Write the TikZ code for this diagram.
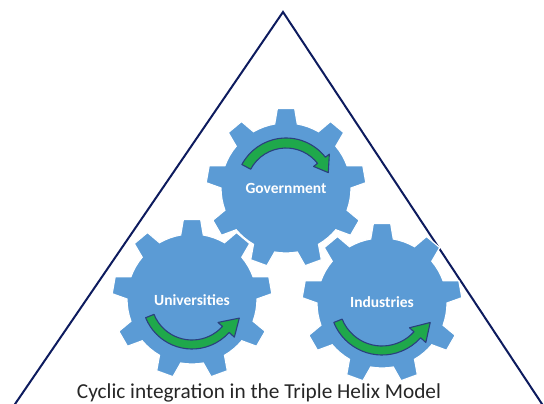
\documentclass[tikz,border=0pt]{standalone}
\usepackage{fontspec}
\setmainfont{Carlito}
\definecolor{gearblue}{HTML}{5B9BD5}
\definecolor{arrowgreen}{HTML}{1FA84B}
\definecolor{arrownavy}{HTML}{2B3F7E}
\definecolor{framenavy}{HTML}{0D1B5E}
\definecolor{captiongray}{HTML}{262626}
\newcommand{\drawgear}[2]{%
  \begin{scope}[shift={(#1,#2)}]
    \path[gearfill] (-100:65)
      \foreach \a in {-90,-50,...,230}{
        -- (\a-6.2:80) -- (\a+6.2:80) -- (\a+10:65)
        arc[start angle=\a+10, end angle=\a+30, radius=65]
      } -- cycle;
  \end{scope}}
\begin{document}
\begin{tikzpicture}[x=1pt,y=-1pt,
  gearfill/.style={fill=gearblue, draw=white, line width=1.2pt},
  helix/.style={fill=arrowgreen, draw=arrownavy, line width=1.1pt, line join=round},
  gearlabel/.style={text=white, font=\bfseries\fontsize{15.5}{18}\selectfont, inner sep=0pt},
  frameline/.style={draw=framenavy, line width=2pt, line join=miter}]
\useasboundingbox (0,0) rectangle (544,404);
% triangle frame
\coordinate (apex) at (283,12);
\coordinate (leftfoot) at (13,407);
\coordinate (rightfoot) at (544,407);
\draw[frameline] (leftfoot) -- (apex) -- (rightfoot);
% gears
\drawgear{192}{299}
\drawgear{382}{303}
\drawgear{286}{188}
% curved arrows
\begin{scope}[shift={(286,188)}]
  \path[helix] (208:40) arc[start angle=208, end angle=322, radius=40]
    -- (322:35) -- (340:45) -- (322:55) -- (322:50)
    arc[start angle=322, end angle=208, radius=50] -- cycle;
\end{scope}
\begin{scope}[shift={(192,299)}]
  \path[helix] (158:50) arc[start angle=158, end angle=42, radius=50]
    -- (42:57) -- (22:51) -- (42:35) -- (42:41)
    arc[start angle=42, end angle=158, radius=41] -- cycle;
\end{scope}
\begin{scope}[shift={(382,303)}]
  \path[helix] (158:52) arc[start angle=158, end angle=42, radius=52]
    -- (42:59) -- (22:52) -- (42:37) -- (42:43)
    arc[start angle=42, end angle=158, radius=43] -- cycle;
\end{scope}
% labels
\node[gearlabel] (gov) at (286,188) {Government};
\node[gearlabel] (univ) at (192,300) {Universities};
\node[gearlabel] (ind) at (382,302) {Industries};
\node[anchor=base, inner sep=0pt, text=captiongray, font=\fontsize{21.3}{24}\selectfont] (caption) at (259,398) {Cyclic integration in the Triple Helix Model};
\end{tikzpicture}
\end{document}
